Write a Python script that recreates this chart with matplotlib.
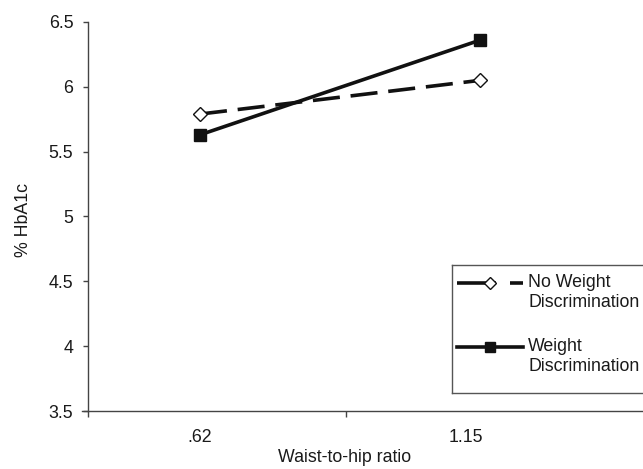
import matplotlib.pyplot as plt
from matplotlib.lines import Line2D

# data
categories = ['.62', '1.15']
no_weight_disc = [5.79, 6.05]
weight_disc = [5.63, 6.36]
yticks = [3.5, 4, 4.5, 5, 5.5, 6, 6.5]
ytick_labels = ['3.5', '4', '4.5', '5', '5.5', '6', '6.5']

W, H = 643, 469
FS = 12.8
TXT = '#1a1a1a'
fig = plt.figure(figsize=(W / 100, H / 100), dpi=100)
plt.rcParams['font.family'] = ['Liberation Sans', 'DejaVu Sans']

# axes in pixel layout: left spine at 88px, 6.5 at 22px, 3.5 at 411px
ax = fig.add_axes([88 / W, 1 - 411 / H, 1 - 88 / W, (411 - 22) / H])
xs = [0, 1]
ax.plot(xs, no_weight_disc, color='#111111', lw=2.6, dashes=(7.5, 3),
        marker='D', ms=7.5, mfc='white', mec='#111111', mew=1.0)
ax.plot(xs, weight_disc, color='#111111', lw=2.6,
        marker='s', ms=8, mfc='#111111', mec='#111111')

ax.set_ylim(3.5, 6.5)
ax.set_xlim(-0.4, 1.582)
ax.set_yticks(yticks)
ax.set_yticklabels(ytick_labels, fontsize=FS, color=TXT)
ax.set_xticks([0, 0.95])
ax.set_xticklabels(categories, fontsize=FS, color=TXT)
ax.tick_params(axis='x', which='major', length=0, pad=13)
ax.set_xticks([-0.4, 0.521], minor=True)
ax.tick_params(axis='x', which='minor', length=4.3, color='#444444', width=1)
ax.tick_params(axis='y', length=3.6, color='#444444', width=1, pad=7)

for s in ['top', 'right']:
    ax.spines[s].set_visible(False)
for s in ['left', 'bottom']:
    ax.spines[s].set_color('#444444')
    ax.spines[s].set_linewidth(1)
ax.spines['bottom'].set_bounds(-0.42, 1.582)

ax.set_ylabel('% HbA1c', fontsize=FS, color=TXT)
ax.yaxis.set_label_coords(-0.1, 0.49)
ax.set_xlabel('Waist-to-hip ratio', fontsize=FS, color=TXT)
ax.xaxis.set_label_coords((345 - 88) / (W - 88), -0.098)

# legend box drawn in pixel units
lg = fig.add_axes([452 / W, 1 - 393 / H, (670 - 452) / W, (393 - 265) / H])
lg.set_xlim(452, 670)
lg.set_ylim(393, 265)
lg.set_xticks([])
lg.set_yticks([])
for s in lg.spines.values():
    s.set_color('#555555')
    s.set_linewidth(1)
lg.add_line(Line2D([457, 496], [283, 283], color='#111111', lw=2.6, solid_capstyle='butt'))
lg.add_line(Line2D([510, 523], [283, 283], color='#111111', lw=2.6, solid_capstyle='butt'))
lg.add_line(Line2D([490], [283], marker='D', ms=6, mfc='white', mec='#111111', mew=1.0))
lg.add_line(Line2D([457, 523], [347, 347], color='#111111', lw=2.6))
lg.add_line(Line2D([490], [347], marker='s', ms=7, mfc='#111111', mec='#111111'))
lg.text(528, 274, 'No Weight\nDiscrimination', fontsize=FS, color=TXT,
        va='top', ha='left', linespacing=1.25)
lg.text(528, 338, 'Weight\nDiscrimination', fontsize=FS, color=TXT,
        va='top', ha='left', linespacing=1.25)

fig.savefig('out.png', dpi=100)
